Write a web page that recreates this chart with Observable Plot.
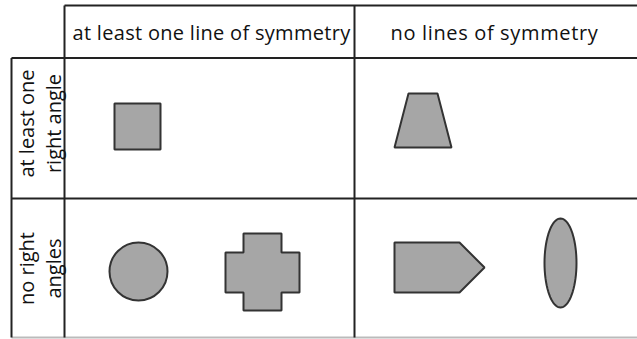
<!DOCTYPE html>
<html>
<head>
<meta charset="utf-8">
<script src="https://cdn.jsdelivr.net/npm/d3@7"></script>
<script src="https://cdn.jsdelivr.net/npm/@observablehq/plot@0.6"></script>
<style>
  html, body { margin: 0; padding: 0; background: #fff; }
  svg { display: block; }
  .hdr-left text { letter-spacing: 0.3px; }
  .hdr-mid text { letter-spacing: 0.65px; }
</style>
</head>
<body>
<div id="chart"></div>
<script>
// ---- data ----
const columnLabels = ["at least one line of symmetry", "no lines of symmetry"];
const rowLabels = [["at least one", "right angle"], ["no right", "angles"]];
const shapeNames = ["square", "trapezium", "circle", "cross", "pentagon", "ellipse"];
const shapeColumn = [0, 1, 0, 0, 1, 1];
const shapeRow = [0, 0, 1, 1, 1, 1];

// ---- layout (pixel units) ----
const W = 637, H = 339;
const colX = [64, 354, 637];      // column boundaries
const rowY = [57.5, 198, 337];    // row boundaries
const rowLabelY = [123, 268];     // centre of the rotated row labels
const headerTop = 5;
const labelLeft = 11;

const lines = [];
lines.push({x1: colX[0], x2: W, y1: headerTop, y2: headerTop, c: "#222"});
lines.push({x1: labelLeft, x2: W, y1: rowY[0], y2: rowY[0], c: "#222"});
lines.push({x1: labelLeft, x2: W, y1: rowY[1], y2: rowY[1], c: "#222"});
lines.push({x1: labelLeft, x2: W, y1: rowY[2], y2: rowY[2], c: "#bbb"});
lines.push({x1: labelLeft, x2: labelLeft, y1: rowY[0], y2: rowY[2], c: "#222"});
lines.push({x1: colX[0], x2: colX[0], y1: headerTop, y2: rowY[2], c: "#222"});
lines.push({x1: colX[1], x2: colX[1], y1: headerTop, y2: rowY[2], c: "#222"});

const headerLeft = [{t: columnLabels[0], x: 72, y: 33}];
const headerMid = [{t: columnLabels[1], x: 494, y: 33}];
const rowText = [];
rowLabels.forEach((pair, r) => {
  rowText.push({t: pair[0], x: 27, y: rowLabelY[r]});
  rowText.push({t: pair[1], x: 54, y: rowLabelY[r]});
});

// shape geometry
const polys = [];
const addPoly = (name, pts) => pts.forEach(([x, y]) => polys.push({name, x, y}));
addPoly("square", [[114,103],[160,103],[160,149],[114,149]]);
addPoly("trapezium", [[408,93],[437,93],[451,147],[394,147]]);
addPoly("cross", [[243,233],[281,233],[281,252],[299,252],[299,292],[281,292],[281,310],[243,310],[243,292],[225,292],[225,252],[243,252]]);
addPoly("pentagon", [[394,242],[459,242],[484,267],[459,292],[394,292]]);
const ell = {cx: 560, cy: 262.5, rx: 16, ry: 44.5};
for (let k = 0; k < 72; k++) {
  const a = (k / 72) * 2 * Math.PI;
  polys.push({name: "ellipse", x: ell.cx + ell.rx * Math.cos(a), y: ell.cy + ell.ry * Math.sin(a)});
}
const circles = [{name: "circle", x: 138, y: 271, r: 29}];

const font = "'Open Sans', 'Noto Sans', sans-serif";
const textOpts = {fontSize: 20, fill: "#111"};

const chart = Plot.plot({
  width: W,
  height: H,
  margin: 0,
  x: {domain: [0, W], range: [0, W], axis: null},
  y: {domain: [0, H], range: [0, H], axis: null},
  r: {type: "identity"},
  style: {fontFamily: font, background: "#fff"},
  marks: [
    Plot.line(polys, {x: "x", y: "y", z: "name", fill: "#a6a6a6", stroke: "#333", strokeWidth: 2, curve: "linear-closed", strokeLinejoin: "miter"}),
    Plot.dot(circles, {x: "x", y: "y", r: "r", fill: "#a6a6a6", stroke: "#333", strokeWidth: 2}),
    Plot.link(lines, {x1: "x1", x2: "x2", y1: "y1", y2: "y2", stroke: "c", strokeWidth: 2}),
    Plot.text(headerLeft, {x: "x", y: "y", text: "t", textAnchor: "start", className: "hdr-left", ...textOpts}),
    Plot.text(headerMid, {x: "x", y: "y", text: "t", textAnchor: "middle", className: "hdr-mid", ...textOpts}),
    Plot.text(rowText, {x: "x", y: "y", text: "t", rotate: -90, ...textOpts})
  ]
});
document.getElementById("chart").appendChild(chart);
</script>
</body>
</html>
